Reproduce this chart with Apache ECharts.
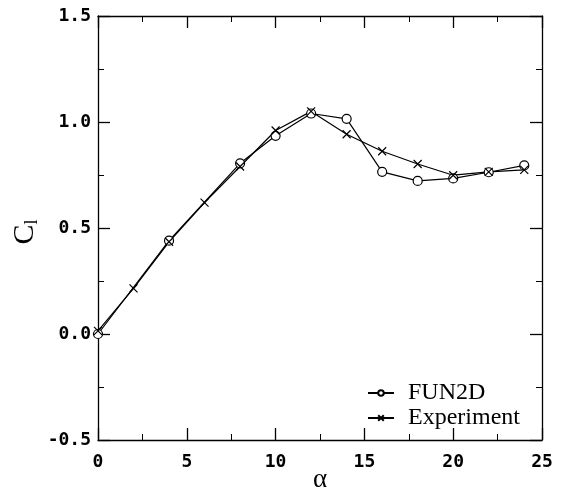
<!DOCTYPE html>
<html>
<head>
<meta charset="utf-8">
<script src="https://cdn.jsdelivr.net/npm/echarts@6/dist/echarts.min.js"></script>
<style>
  html, body { margin: 0; padding: 0; background: #fff; }
  #chart { width: 563px; height: 497px; }
</style>
</head>
<body>
<div id="chart"></div>
<script>
// Lift coefficient vs. angle of attack: FUN2D computation and wind-tunnel data
const fun2dAlpha = [0, 4, 8, 10, 12, 14, 16, 18, 20, 22, 24];
const fun2dCl    = [0.0, 0.44, 0.805, 0.935, 1.04, 1.015, 0.765, 0.722, 0.734, 0.763, 0.795];

const expAlpha = [0, 2, 4, 6, 8, 10, 12, 14, 16, 18, 20, 22, 24];
const expCl    = [0.015, 0.215, 0.435, 0.62, 0.79, 0.96, 1.05, 0.942, 0.862, 0.802, 0.749, 0.765, 0.774];

const xTicks = { min: 0, max: 25, interval: 5 };
const yTicks = { min: -0.5, max: 1.5, interval: 0.5 };

const pairs = (xs, ys) => xs.map((x, i) => [x, ys[i]]);

const crossPath = 'path://M0,0L10,10M10,0L0,10';
const labelFont = { fontFamily: 'DejaVu Sans Mono', fontSize: 18, fontWeight: 'bold', color: '#000' };

function frameAxis(extra) {
  return Object.assign({
    type: 'value',
    axisLine: { show: true, onZero: false, lineStyle: { color: '#000', width: 1.3 } },
    axisTick: { show: true, inside: true, length: 12, lineStyle: { color: '#000', width: 1.3 } },
    minorTick: { show: true, splitNumber: 2, length: 6, lineStyle: { color: '#000', width: 1 } },
    splitLine: { show: false },
    minorSplitLine: { show: false }
  }, extra);
}

const chart = echarts.init(document.getElementById('chart'), null, { renderer: 'canvas' });
chart.setOption({
  animation: false,
  backgroundColor: '#fff',
  grid: { left: 98, right: 21, top: 16, bottom: 57, outerBoundsMode: 'none', containLabel: false },
  xAxis: [
    frameAxis({
      position: 'bottom', min: xTicks.min, max: xTicks.max, interval: xTicks.interval,
      axisLabel: Object.assign({ margin: 13 }, labelFont),
      name: 'α', nameLocation: 'middle', nameGap: 26, nameMoveOverlap: false,
      nameTextStyle: { fontFamily: 'Liberation Serif', fontSize: 27, color: '#000' }
    }),
    frameAxis({
      position: 'top', min: xTicks.min, max: xTicks.max, interval: xTicks.interval,
      axisLabel: { show: false }
    })
  ],
  yAxis: [
    frameAxis({
      position: 'left', min: yTicks.min, max: yTicks.max, interval: yTicks.interval,
      axisLabel: Object.assign({ margin: 7, formatter: v => v.toFixed(1) }, labelFont),
      name: '{c|C}{s|l}', nameLocation: 'middle', nameGap: 57, nameRotate: 90, nameMoveOverlap: false,
      nameTextStyle: {
        padding: [0, 8, 0, 0],
        rich: {
          c: { fontFamily: 'Liberation Serif', fontSize: 30, color: '#000' },
          s: { fontFamily: 'Liberation Serif', fontSize: 18, color: '#000', verticalAlign: 'bottom', padding: [14, 0, 0, 0] }
        }
      }
    }),
    frameAxis({
      position: 'right', min: yTicks.min, max: yTicks.max, interval: yTicks.interval,
      axisLabel: { show: false }
    })
  ],
  legend: {
    left: 362, top: 376, orient: 'vertical', itemGap: 1,
    itemWidth: 26, itemHeight: 7,
    textStyle: { fontFamily: 'Liberation Serif', fontSize: 24, lineHeight: 24, color: '#000', padding: [0, 0, 0, 9] },
    data: ['FUN2D', 'Experiment']
  },
  series: [
    {
      name: 'FUN2D', type: 'line', data: pairs(fun2dAlpha, fun2dCl),
      symbol: 'circle', symbolSize: 9,
      lineStyle: { color: '#000', width: 1.2 },
      itemStyle: { color: '#fff', borderColor: '#000', borderWidth: 1.2 }
    },
    {
      name: 'Experiment', type: 'line', data: pairs(expAlpha, expCl),
      symbol: crossPath, symbolSize: 8,
      lineStyle: { color: '#000', width: 1.2 },
      itemStyle: { color: 'none', borderColor: '#000', borderWidth: 1.2 }
    }
  ]
});
</script>
</body>
</html>
